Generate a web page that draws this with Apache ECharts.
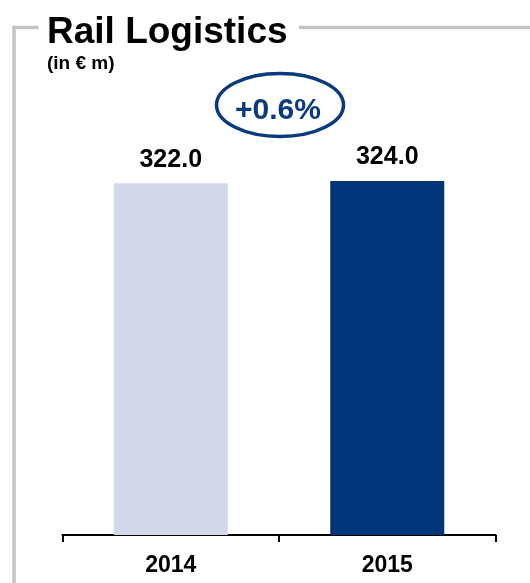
<!DOCTYPE html>
<html>
<head>
<meta charset="utf-8">
<script src="https://cdn.jsdelivr.net/npm/echarts@6/dist/echarts.min.js"></script>
<style>
  html, body { margin: 0; padding: 0; background: #ffffff; }
  #chart { width: 530px; height: 583px; }
</style>
</head>
<body>
<div id="chart"></div>
<script>
// Revenue of the Rail Logistics segment, two fiscal years
const years = ['2014', '2015'];
const revenue = [322.0, 324.0];
const barColors = ['#d3d9ea', '#02347a'];
const changeText = '+0.6%';
const titleText = 'Rail Logistics';
const unitText = '(in \u20ac m)';

const FONT = '"Liberation Sans", Arial, Helvetica, sans-serif';
const NAVY = '#0a3a7d';
const FRAME = '#c4c4c4';

const chart = echarts.init(document.getElementById('chart'), null, { renderer: 'canvas' });

chart.setOption({
  animation: false,
  backgroundColor: '#ffffff',
  grid: { left: 62.5, right: 34.5, top: 98, bottom: 48 },
  xAxis: {
    type: 'category',
    data: years,
    axisLine: { show: true, lineStyle: { color: '#000000', width: 2 } },
    axisTick: { show: true, length: 7, lineStyle: { color: '#000000', width: 2 } },
    axisLabel: {
      color: '#000000', fontFamily: FONT, fontWeight: 'bold', fontSize: 23, margin: 19
    }
  },
  yAxis: {
    type: 'value', min: 0, max: 400, show: false,
    splitLine: { show: false }
  },
  series: [{
    type: 'bar',
    barWidth: 114,
    data: revenue.map((v, i) => ({ value: v, itemStyle: { color: barColors[i] } })),
    label: {
      show: true, position: 'top', distance: 11,
      color: '#000000', fontFamily: FONT, fontWeight: 'bold', fontSize: 25,
      formatter: p => p.value.toFixed(1)
    }
  }],
  graphic: [
    // grey frame around the panel, broken by the title
    { type: 'line', shape: { x1: 14, y1: 27.5, x2: 14, y2: 590 }, style: { stroke: FRAME, lineWidth: 3.5 } },
    { type: 'line', shape: { x1: 12.25, y1: 27.5, x2: 38.5, y2: 27.5 }, style: { stroke: FRAME, lineWidth: 3.5 } },
    { type: 'line', shape: { x1: 299, y1: 27.5, x2: 535, y2: 27.5 }, style: { stroke: FRAME, lineWidth: 3.5 } },
    {
      type: 'text', x: 47, y: 32.5,
      style: { text: titleText, fill: '#000000', font: 'bold 37px ' + FONT, align: 'left', verticalAlign: 'middle' }
    },
    {
      type: 'text', x: 47, y: 63.5,
      style: { text: unitText, fill: '#000000', font: 'bold 19px ' + FONT, align: 'left', verticalAlign: 'middle' }
    },
    // year-on-year change badge
    {
      type: 'ellipse', shape: { cx: 280, cy: 105, rx: 63.5, ry: 31.5 },
      style: { fill: 'none', stroke: NAVY, lineWidth: 3.5 }
    },
    {
      type: 'text', x: 278, y: 110.5,
      style: { text: changeText, fill: NAVY, font: 'bold 30px ' + FONT, align: 'center', verticalAlign: 'middle' }
    }
  ]
});
</script>
</body>
</html>
